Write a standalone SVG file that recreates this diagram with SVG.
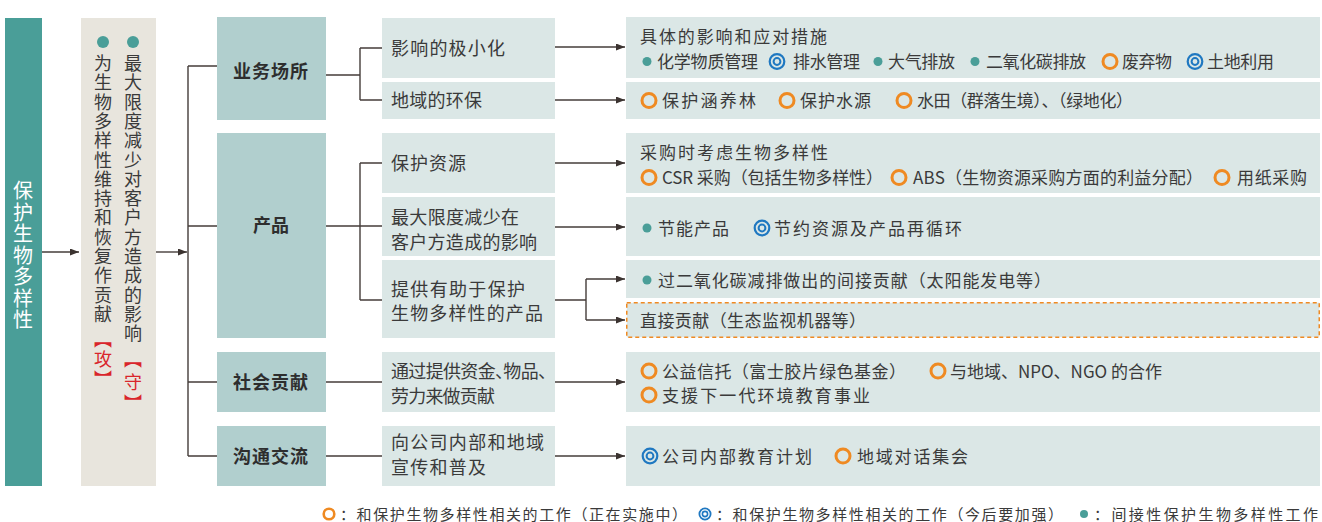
<svg xmlns="http://www.w3.org/2000/svg" width="1322" height="522" viewBox="0 0 1322 522">
<style>
text{font-family:"Noto Sans CJK SC","Noto Sans",sans-serif;fill:#3a3a3a;}
.t18{font-size:18px;}
.t17{font-size:17px;}
.cat{font-size:18px;font-weight:bold;fill:#2e2e2e;}
.leg{font-size:15px;}
.vt{font-size:20px;fill:#ffffff;}
.red{fill:#d9252b;}
.halt{font-feature-settings:"halt";}
.ln{fill:none;stroke:#453d3a;stroke-width:1.4;}
.sub{fill:#dbe7e6;}
.catbox{fill:#b1cfce;}
</style>
<defs>
<marker id="ah" markerUnits="userSpaceOnUse" markerWidth="10" markerHeight="8" refX="9" refY="3.5" orient="auto">
<path d="M0,0 L9,3.5 L0,7 z" fill="#3b3330"/>
</marker>
<circle id="dot" r="4.5" fill="#4a9e98"/>
<circle id="ring" r="7" fill="none" stroke="#ef8a22" stroke-width="3"/>
<g id="dring"><circle r="7.3" fill="none" stroke="#1f78c1" stroke-width="2.2"/><circle r="3.4" fill="none" stroke="#1f78c1" stroke-width="2"/></g>
<circle id="lring" r="5.3" fill="none" stroke="#ef8a22" stroke-width="2.6"/>
<g id="ldring"><circle r="5.6" fill="none" stroke="#1f78c1" stroke-width="1.8"/><circle r="2.6" fill="none" stroke="#1f78c1" stroke-width="1.6"/></g>
<circle id="ldot" r="4" fill="#4a9e98"/>
</defs>

<g id="root">
<rect x="5" y="18" width="37" height="468" fill="#4a9e98"/>
<text class="vt" text-anchor="middle"><tspan x="23" y="198">保</tspan><tspan x="23" y="219.5">护</tspan><tspan x="23" y="241">生</tspan><tspan x="23" y="262.5">物</tspan><tspan x="23" y="284">多</tspan><tspan x="23" y="305.5">样</tspan><tspan x="23" y="327">性</tspan></text>
</g>

<g id="goals">
<rect x="81" y="18" width="75" height="468" fill="#e8e5dd"/>
<circle cx="103" cy="42" r="6" fill="#4a9e98"/>
<circle cx="133" cy="42" r="6" fill="#4a9e98"/>
<text class="t18" text-anchor="middle"><tspan x="103" y="70">为</tspan><tspan x="103" y="89.3">生</tspan><tspan x="103" y="108.6">物</tspan><tspan x="103" y="127.9">多</tspan><tspan x="103" y="147.2">样</tspan><tspan x="103" y="166.5">性</tspan><tspan x="103" y="185.8">维</tspan><tspan x="103" y="205.1">持</tspan><tspan x="103" y="224.4">和</tspan><tspan x="103" y="243.7">恢</tspan><tspan x="103" y="263">复</tspan><tspan x="103" y="282.3">作</tspan><tspan x="103" y="301.6">贡</tspan><tspan x="103" y="320.9">献</tspan></text>
<text class="t18 red" text-anchor="middle"><tspan x="103" y="346">︻</tspan><tspan x="103" y="366">攻</tspan><tspan x="103" y="386">︼</tspan></text>
<text class="t18" text-anchor="middle"><tspan x="133" y="70">最</tspan><tspan x="133" y="89.3">大</tspan><tspan x="133" y="108.6">限</tspan><tspan x="133" y="127.9">度</tspan><tspan x="133" y="147.2">减</tspan><tspan x="133" y="166.5">少</tspan><tspan x="133" y="185.8">对</tspan><tspan x="133" y="205.1">客</tspan><tspan x="133" y="224.4">户</tspan><tspan x="133" y="243.7">方</tspan><tspan x="133" y="263">造</tspan><tspan x="133" y="282.3">成</tspan><tspan x="133" y="301.6">的</tspan><tspan x="133" y="320.9">影</tspan><tspan x="133" y="340.2">响</tspan></text>
<text class="t18 red" text-anchor="middle"><tspan x="133" y="366">︻</tspan><tspan x="133" y="389">守</tspan><tspan x="133" y="410">︼</tspan></text>
</g>

<g id="connectors">
<path class="ln" d="M42,252 H79" marker-end="url(#ah)"/>
<path class="ln" d="M156,252 H187" marker-end="url(#ah)"/>
<path class="ln" d="M188,66 V456 M188,66 H217 M188,226 H217 M188,382 H217 M188,456 H217"/>
<path class="ln" d="M326,75 H360 M360,48 V100 M360,48 H382 M360,100 H382"/>
<path class="ln" d="M326,226 H382 M360,163 V300 M360,163 H382 M360,300 H382"/>
<path class="ln" d="M326,382 H382 M326,456 H382"/>
<path class="ln" d="M555,47 H625" marker-end="url(#ah)"/>
<path class="ln" d="M555,100 H625" marker-end="url(#ah)"/>
<path class="ln" d="M555,163 H625" marker-end="url(#ah)"/>
<path class="ln" d="M555,227 H625" marker-end="url(#ah)"/>
<path class="ln" d="M555,300 H586 M586,279 V320"/>
<path class="ln" d="M586,279 H625" marker-end="url(#ah)"/>
<path class="ln" d="M586,320 H625" marker-end="url(#ah)"/>
<path class="ln" d="M555,382 H625" marker-end="url(#ah)"/>
<path class="ln" d="M555,456 H625" marker-end="url(#ah)"/>
</g>

<g id="cat-site">
<rect class="catbox" x="217" y="17" width="109" height="103"/>
<text class="cat" x="233" y="78" textLength="75" lengthAdjust="spacing">业务场所</text>
</g>
<g id="cat-product">
<rect class="catbox" x="217" y="133" width="109" height="205"/>
<text class="cat" x="253" y="232" textLength="36" lengthAdjust="spacing">产品</text>
</g>
<g id="cat-social">
<rect class="catbox" x="217" y="352" width="109" height="60"/>
<text class="cat" x="233" y="389" textLength="75" lengthAdjust="spacing">社会贡献</text>
</g>
<g id="cat-comm">
<rect class="catbox" x="217" y="426" width="109" height="60"/>
<text class="cat" x="233" y="463" textLength="75" lengthAdjust="spacing">沟通交流</text>
</g>

<g id="sub-1">
<rect class="sub" x="382" y="18" width="173" height="60"/>
<text class="t18" x="391" y="55" textLength="114" lengthAdjust="spacing">影响的极小化</text>
</g>
<g id="sub-2">
<rect class="sub" x="382" y="82" width="173" height="37"/>
<text class="t18" x="391" y="107" textLength="91" lengthAdjust="spacing">地域的环保</text>
</g>
<g id="sub-3">
<rect class="sub" x="382" y="133" width="173" height="60"/>
<text class="t18" x="391" y="170" textLength="75" lengthAdjust="spacing">保护资源</text>
</g>
<g id="sub-4">
<rect class="sub" x="382" y="197" width="173" height="59"/>
<text class="t18" x="391" y="224" textLength="128" lengthAdjust="spacing">最大限度减少在</text>
<text class="t18" x="391" y="249" textLength="146" lengthAdjust="spacing">客户方造成的影响</text>
</g>
<g id="sub-5">
<rect class="sub" x="382" y="260" width="173" height="78"/>
<text class="t18" x="391" y="296" textLength="134" lengthAdjust="spacing">提供有助于保护</text>
<text class="t18" x="391" y="320" textLength="152" lengthAdjust="spacing">生物多样性的产品</text>
</g>
<g id="sub-6">
<rect class="sub" x="382" y="352" width="173" height="60"/>
<text class="t18 halt" x="391" y="378" textLength="156" lengthAdjust="spacing">通过提供资金、物品、</text>
<text class="t18" x="391" y="403" textLength="104" lengthAdjust="spacing">劳力来做贡献</text>
</g>
<g id="sub-7">
<rect class="sub" x="382" y="426" width="173" height="60"/>
<text class="t18" x="391" y="449" textLength="153" lengthAdjust="spacing">向公司内部和地域</text>
<text class="t18" x="391" y="474" textLength="95" lengthAdjust="spacing">宣传和普及</text>
</g>

<g id="act-1">
<rect class="sub" x="626" y="17" width="694" height="61"/>
<text class="t17" x="640" y="43" textLength="187" lengthAdjust="spacing">具体的影响和应对措施</text>
<use href="#dot" x="647" y="61.5"/>
<text class="t17" x="657" y="68" textLength="101" lengthAdjust="spacing">化学物质管理</text>
<use href="#dring" x="777" y="61.5"/>
<text class="t17" x="793" y="68" textLength="67" lengthAdjust="spacing">排水管理</text>
<use href="#dot" x="878" y="61.5"/>
<text class="t17" x="888" y="68" textLength="67" lengthAdjust="spacing">大气排放</text>
<use href="#dot" x="975" y="61.5"/>
<text class="t17" x="986" y="68" textLength="100" lengthAdjust="spacing">二氧化碳排放</text>
<use href="#ring" x="1110" y="61.5"/>
<text class="t17" x="1122" y="68" textLength="50" lengthAdjust="spacing">废弃物</text>
<use href="#dring" x="1195" y="61.5"/>
<text class="t17" x="1207" y="68" textLength="67" lengthAdjust="spacing">土地利用</text>
</g>
<g id="act-2">
<rect class="sub" x="626" y="82" width="694" height="37"/>
<use href="#ring" x="649" y="100.5"/>
<text class="t17" x="662" y="107" textLength="94" lengthAdjust="spacing">保护涵养林</text>
<use href="#ring" x="787" y="100.5"/>
<text class="t17" x="800" y="107" textLength="71" lengthAdjust="spacing">保护水源</text>
<use href="#ring" x="904" y="100.5"/>
<text class="t17" x="917" y="107" textLength="216" lengthAdjust="spacing">水田（群落生境）、（绿地化）</text>
</g>
<g id="act-3">
<rect class="sub" x="626" y="133" width="694" height="60"/>
<text class="t17" x="640" y="159" textLength="188" lengthAdjust="spacing">采购时考虑生物多样性</text>
<use href="#ring" x="649" y="177.5"/>
<text class="t17" x="662" y="184" textLength="221" lengthAdjust="spacing">CSR 采购（包括生物多样性）</text>
<use href="#ring" x="899" y="177.5"/>
<text class="t17" x="913" y="184" textLength="290" lengthAdjust="spacing">ABS（生物资源采购方面的利益分配）</text>
<use href="#ring" x="1222" y="177.5"/>
<text class="t17" x="1237" y="184" textLength="70" lengthAdjust="spacing">用纸采购</text>
</g>
<g id="act-4">
<rect class="sub" x="626" y="197" width="694" height="59"/>
<use href="#dot" x="647" y="228"/>
<text class="t17" x="658" y="234.5" textLength="71" lengthAdjust="spacing">节能产品</text>
<use href="#dring" x="762" y="228"/>
<text class="t17" x="774" y="234.5" textLength="188" lengthAdjust="spacing">节约资源及产品再循环</text>
</g>
<g id="act-5">
<rect class="sub" x="626" y="260" width="694" height="38"/>
<use href="#dot" x="647" y="280"/>
<text class="t17" x="658" y="286.5" textLength="393" lengthAdjust="spacing">过二氧化碳减排做出的间接贡献（太阳能发电等）</text>
</g>
<g id="act-6">
<rect class="sub" x="626.75" y="302.75" width="692.5" height="34.5" stroke="#ef8a22" stroke-width="1.5" stroke-dasharray="4 3"/>
<text class="t17" x="640" y="327" textLength="226" lengthAdjust="spacing">直接贡献（生态监视机器等）</text>
</g>
<g id="act-7">
<rect class="sub" x="626" y="352" width="694" height="60"/>
<use href="#ring" x="649" y="371"/>
<text class="t17" x="662" y="377.5" textLength="244" lengthAdjust="spacing">公益信托（富士胶片绿色基金）</text>
<use href="#ring" x="938" y="371"/>
<text class="t17" x="950" y="377.5" textLength="212" lengthAdjust="spacing">与地域、NPO、NGO 的合作</text>
<use href="#ring" x="649" y="395"/>
<text class="t17" x="662" y="401.5" textLength="208" lengthAdjust="spacing">支援下一代环境教育事业</text>
</g>
<g id="act-8">
<rect class="sub" x="626" y="426" width="694" height="60"/>
<use href="#dring" x="650" y="456"/>
<text class="t17" x="662" y="462.5" textLength="150" lengthAdjust="spacing">公司内部教育计划</text>
<use href="#ring" x="843" y="456"/>
<text class="t17" x="857" y="462.5" textLength="111" lengthAdjust="spacing">地域对话集会</text>
</g>

<g id="legend">
<use href="#lring" x="329" y="514"/>
<text class="leg" x="340" y="519.5" textLength="347" lengthAdjust="spacing">：和保护生物多样性相关的工作（正在实施中）</text>
<use href="#ldring" x="705" y="514"/>
<text class="leg" x="716" y="519.5" textLength="347" lengthAdjust="spacing">：和保护生物多样性相关的工作（今后要加强）</text>
<use href="#ldot" x="1084" y="514"/>
<text class="leg" x="1094" y="519.5" textLength="224" lengthAdjust="spacing">：间接性保护生物多样性工作</text>
</g>
</svg>
